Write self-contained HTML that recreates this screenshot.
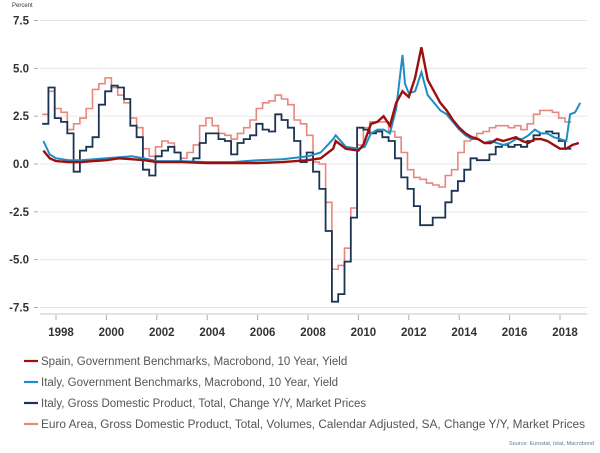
<!DOCTYPE html>
<html><head><meta charset="utf-8"><style>
html,body{margin:0;padding:0;background:#fff;}
svg{display:block;font-family:"Liberation Sans",sans-serif;}
</style></head><body>
<svg id="chart" width="600" height="453" viewBox="0 0 600 453" xmlns="http://www.w3.org/2000/svg">
<text x="12" y="7" font-size="6" fill="#333">Percent</text>
<g id="grid"></g>
<g id="yaxis"></g>
<g id="xaxis"></g>
<g id="series"></g>
<g id="legend"></g>
<text x="594" y="445" font-size="5.5" fill="#5a7a9a" text-anchor="end">Source: Eurostat, Istat, Macrobond</text>
</svg>
<script>
const yTicks = [7.5, 5.0, 2.5, 0.0, -2.5, -5.0, -7.5];
const yTickLabels = ["7.5", "5.0", "2.5", "0.0", "-2.5", "-5.0", "-7.5"];
const xTickYears = [1998, 2000, 2002, 2004, 2006, 2008, 2010, 2012, 2014, 2016, 2018];
const gdpStart = 1997.45;
const italyGdp = [2.1,4.0,2.4,2.2,1.6,-0.4,0.7,0.9,1.4,3.1,3.8,4.1,4.0,3.4,2.0,1.4,-0.3,-0.6,0.4,0.7,0.9,0.6,0.1,0.1,0.3,1.1,1.6,1.6,1.3,1.2,0.5,1.1,1.3,1.5,2.1,1.8,1.7,2.6,2.3,1.9,1.2,0.1,0.6,-0.4,-1.3,-3.5,-7.2,-6.8,-5.1,-2.8,1.9,1.8,1.6,1.7,1.4,1.2,0.3,-0.7,-1.3,-2.2,-3.2,-3.2,-2.8,-2.8,-2.0,-1.4,-0.9,-0.3,0.3,0.2,0.2,0.5,0.9,1.0,0.9,1.0,0.9,1.2,1.5,1.6,1.7,1.6,1.2,0.8];
const euroGdp = [2.6,3.8,2.9,2.7,1.8,2.1,2.4,2.9,3.9,4.2,4.5,4.0,3.6,3.2,2.4,1.9,0.8,0.4,0.9,1.2,1.1,0.6,0.3,0.6,1.0,2.0,2.4,2.0,1.6,1.5,1.3,1.6,1.9,2.3,2.9,3.2,3.3,3.6,3.4,3.1,2.3,2.1,1.5,0.1,0.0,-2.0,-5.5,-5.3,-4.4,-2.3,1.0,1.9,2.2,2.2,2.2,1.7,1.4,0.6,-0.3,-0.7,-0.8,-1.0,-1.1,-1.2,-0.6,-0.3,0.6,1.2,1.4,1.6,1.7,1.9,2.0,2.0,1.9,2.0,1.8,2.1,2.6,2.8,2.8,2.7,2.4,2.2];
const spainDates = [1997.5,1997.75,1998,1998.5,1999,1999.5,2000,2000.5,2001,2001.5,2002,2003,2004,2005,2006,2007,2008,2008.5,2009,2009.1,2009.5,2010,2010.2,2010.5,2010.75,2011,2011.25,2011.5,2011.75,2012,2012.25,2012.5,2012.75,2013,2013.25,2013.5,2013.75,2014,2014.25,2014.5,2014.75,2015,2015.25,2015.5,2015.75,2016,2016.25,2016.5,2016.75,2017,2017.25,2017.5,2017.75,2018,2018.25,2018.5,2018.75];
const spainYield = [0.7,0.3,0.15,0.1,0.1,0.15,0.2,0.3,0.25,0.2,0.1,0.1,0.05,0.05,0.05,0.1,0.2,0.3,0.8,1.2,0.8,0.7,1.0,2.1,2.2,2.5,2.0,3.2,3.8,3.5,4.5,6.1,4.4,3.8,3.2,2.8,2.3,1.9,1.6,1.4,1.3,1.1,1.1,1.3,1.2,1.3,1.4,1.2,1.1,1.3,1.3,1.2,1.0,0.8,0.8,1.0,1.1];
const italyDates = [1997.5,1997.75,1998,1998.5,1999,1999.5,2000,2000.5,2001,2001.5,2002,2003,2004,2005,2006,2007,2008,2008.5,2009,2009.1,2009.5,2010,2010.25,2010.5,2010.75,2011,2011.25,2011.5,2011.75,2011.85,2012,2012.25,2012.5,2012.75,2013,2013.25,2013.5,2013.75,2014,2014.25,2014.5,2014.75,2015,2015.25,2015.5,2015.75,2016,2016.25,2016.5,2016.75,2017,2017.25,2017.5,2017.75,2018,2018.25,2018.4,2018.6,2018.8];
const italyYield = [1.2,0.5,0.3,0.2,0.2,0.25,0.3,0.35,0.4,0.3,0.15,0.15,0.1,0.1,0.2,0.25,0.4,0.6,1.3,1.5,0.9,0.8,0.9,1.6,1.8,1.8,1.6,2.9,5.7,4.2,3.7,3.8,4.8,3.6,3.2,2.8,2.6,2.2,1.8,1.5,1.3,1.3,1.1,1.2,1.1,1.0,1.1,1.3,1.3,1.5,1.8,1.6,1.6,1.4,1.3,1.2,2.6,2.7,3.2];
const legendLabels = ["Spain, Government Benchmarks, Macrobond, 10 Year, Yield","Italy, Government Benchmarks, Macrobond, 10 Year, Yield","Italy, Gross Domestic Product, Total, Change Y/Y, Market Prices","Euro Area, Gross Domestic Product, Total, Volumes, Calendar Adjusted, SA, Change Y/Y, Market Prices"];

const NS = "http://www.w3.org/2000/svg";
const X0 = 40, X1 = 587;
function xs(yr){ return 56 + (yr - 1998) * 25.2; }
function ys(v){ return 164 - v * 19.13; }
function mk(tag, parent){ const e = document.createElementNS(NS, tag); parent.appendChild(e); return e; }

const grid = document.getElementById('grid');
const yaxis = document.getElementById('yaxis');
yTicks.forEach((t, i) => {
  const l = mk('line', grid);
  
  
  l.setAttribute('x1', X0); l.setAttribute('x2', X1);
  l.setAttribute('y1', ys(t)); l.setAttribute('y2', ys(t));
  l.setAttribute('stroke', '#e6e6e6'); l.setAttribute('stroke-width', '1');
  const tk = mk('line', yaxis);
  
  
  tk.setAttribute('x1', 34); tk.setAttribute('x2', 38);
  tk.setAttribute('y1', ys(t)); tk.setAttribute('y2', ys(t));
  tk.setAttribute('stroke', '#aaa');
  const tx = mk('text', yaxis);
  
  
  tx.setAttribute('x', 29); tx.setAttribute('y', ys(t) + 4);
  tx.setAttribute('text-anchor', 'end'); tx.setAttribute('font-size', '11.5');
  tx.setAttribute('font-weight', 'bold'); tx.setAttribute('fill', '#333');
  tx.textContent = yTickLabels[i];
});

const xaxis = document.getElementById('xaxis');
const ax = mk('line', xaxis);


ax.setAttribute('x1', X0); ax.setAttribute('x2', X1); ax.setAttribute('y1', 314); ax.setAttribute('y2', 314);
ax.setAttribute('stroke', '#d8d8d8'); ax.setAttribute('stroke-width', '1.5');
xTickYears.forEach(yr => {
  const tk = mk('line', xaxis);
  
  
  tk.setAttribute('x1', xs(yr)); tk.setAttribute('x2', xs(yr)); tk.setAttribute('y1', 315); tk.setAttribute('y2', 320);
  tk.setAttribute('stroke', '#aaa');
  const tx = mk('text', xaxis);
  
  
  tx.setAttribute('x', xs(yr) + 5); tx.setAttribute('y', 336);
  tx.setAttribute('text-anchor', 'middle'); tx.setAttribute('font-size', '11.5');
  tx.setAttribute('font-weight', 'bold'); tx.setAttribute('fill', '#333');
  tx.textContent = String(yr);
});

const series = document.getElementById('series');
function stepPath(vals){
  let d = '';
  vals.forEach((v, i) => {
    const xa = xs(gdpStart + i * 0.25), xb = xs(gdpStart + (i + 1) * 0.25);
    d += (i === 0 ? 'M' : 'L') + xa.toFixed(1) + ' ' + ys(v).toFixed(1) + ' L' + xb.toFixed(1) + ' ' + ys(v).toFixed(1) + ' ';
  });
  return d;
}
function linePath(dates, vals){
  return vals.map((v, i) => (i ? 'L' : 'M') + xs(dates[i]).toFixed(1) + ' ' + ys(v).toFixed(1)).join(' ');
}
const pe = mk('path', series);


pe.setAttribute('d', stepPath(euroGdp)); pe.setAttribute('fill', 'none');
pe.setAttribute('stroke', '#e8877f'); pe.setAttribute('stroke-width', '1.6');
const pi = mk('path', series);


pi.setAttribute('d', stepPath(italyGdp)); pi.setAttribute('fill', 'none');
pi.setAttribute('stroke', '#1c3454'); pi.setAttribute('stroke-width', '1.8');
const py = mk('path', series);


py.setAttribute('d', linePath(italyDates, italyYield)); py.setAttribute('fill', 'none');
py.setAttribute('stroke', '#1f8ec6'); py.setAttribute('stroke-width', '2');
const ps = mk('path', series);


ps.setAttribute('d', linePath(spainDates, spainYield)); ps.setAttribute('fill', 'none');
ps.setAttribute('stroke', '#9c0f0f'); ps.setAttribute('stroke-width', '2.4');

const legend = document.getElementById('legend');
const legendColors = ['#9c0f0f', '#1f8ec6', '#1c3454', '#e8877f'];
legendLabels.forEach((lab, i) => {
  const y = 361 + i * 21;
  const l = mk('line', legend);
  
  
  l.setAttribute('x1', 24); l.setAttribute('x2', 38); l.setAttribute('y1', y); l.setAttribute('y2', y);
  l.setAttribute('stroke', legendColors[i]); l.setAttribute('stroke-width', '2.2');
  const t = mk('text', legend);
  
  
  t.setAttribute('x', 41); t.setAttribute('y', y + 4);
  t.setAttribute('font-size', '11.5'); t.setAttribute('fill', '#555');
  if (i === 3) { t.setAttribute('textLength', '544'); t.setAttribute('lengthAdjust', 'spacingAndGlyphs'); }
  t.textContent = lab;
});
</script>
</body></html>
